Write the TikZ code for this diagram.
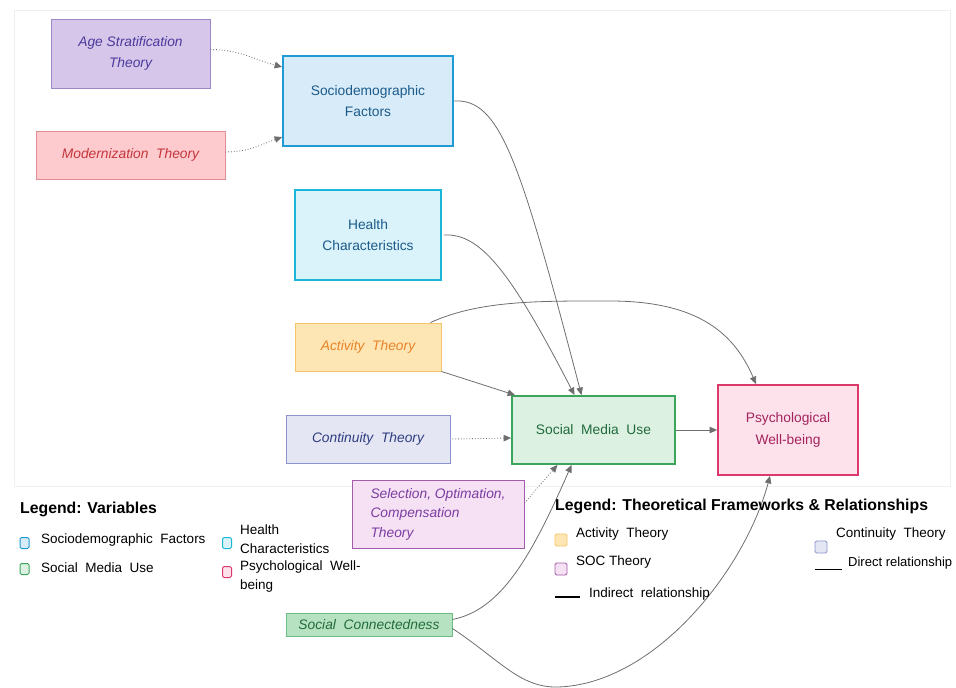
\documentclass[tikz,border=0pt]{standalone}
\usepackage{fontspec}
\setmainfont{Liberation Sans}
\usetikzlibrary{arrows.meta}
\definecolor{arrowgray}{HTML}{6E6E6E}
\definecolor{ageFill}{HTML}{D6C6EA}\definecolor{ageLine}{HTML}{9D88C6}\definecolor{ageTxt}{HTML}{4B3A9C}
\definecolor{modFill}{HTML}{FDCACD}\definecolor{modLine}{HTML}{E38E94}\definecolor{modTxt}{HTML}{C4363C}
\definecolor{socFill}{HTML}{D7ECF8}\definecolor{socLine}{HTML}{1E9BD2}\definecolor{varTxt}{HTML}{1C5A8A}
\definecolor{heaFill}{HTML}{DAF3FA}\definecolor{heaLine}{HTML}{19B6D8}
\definecolor{actFill}{HTML}{FDE6B3}\definecolor{actLine}{HTML}{F5C46A}\definecolor{actTxt}{HTML}{E8832A}
\definecolor{conFill}{HTML}{E4E6F4}\definecolor{conLine}{HTML}{8C94CD}\definecolor{conTxt}{HTML}{2F3D80}
\definecolor{smuFill}{HTML}{DDF1E2}\definecolor{smuLine}{HTML}{3BA65B}\definecolor{smuTxt}{HTML}{1F6B3C}
\definecolor{pwbFill}{HTML}{FDE2EB}\definecolor{pwbLine}{HTML}{DA3A6B}\definecolor{pwbTxt}{HTML}{A3235E}
\definecolor{socTFill}{HTML}{F6E0F3}\definecolor{socTLine}{HTML}{A35CAB}\definecolor{socTTxt}{HTML}{7A3DA3}
\definecolor{scFill}{HTML}{B7E2C2}\definecolor{scLine}{HTML}{6DBE84}\definecolor{scTxt}{HTML}{236B3A}
\begin{document}
\begin{tikzpicture}[x=1pt,y=-1pt,
  boxtxt/.style={font=\fontsize{13.8}{21}\selectfont, align=center, inner sep=2pt},
  varbox/.style={boxtxt, line width=1.8pt},
  thbox/.style={boxtxt, line width=0.9pt, font=\fontsize{13.8}{21}\selectfont\itshape},
  link/.style={draw=arrowgray, line width=0.8pt, -{Triangle[length=7.5pt,width=6.5pt]}},
  dotlink/.style={link, dotted, line width=0.9pt},
  legtitle/.style={anchor=west, inner sep=0pt, font=\fontsize{15.8}{18}\selectfont\bfseries},
  legtxt/.style={anchor=west, inner sep=0pt, align=left, font=\fontsize{13.5}{18.5}\selectfont},
  legsq/.style={rounded corners=1.5pt, line width=1pt, minimum width=9pt, minimum height=11pt, inner sep=0pt},
  legsqb/.style={rounded corners=1.5pt, line width=0.8pt, minimum width=12pt, minimum height=12pt, inner sep=0pt}
]
\useasboundingbox (0,0) rectangle (956,688);
\draw[black!6, line width=1pt] (14,10) rectangle (950,486);

% boxes
\node[thbox, fill=ageFill, draw=ageLine, text=ageTxt, minimum width=159, minimum height=69] (age) at (130.5,53.5) {Age Stratification\\Theory};
\node[thbox, fill=modFill, draw=modLine, text=modTxt, minimum width=189, minimum height=48] (mod) at (130.5,155) {Modernization\ \ Theory};
\node[varbox, fill=socFill, draw=socLine, text=varTxt, minimum width=170, minimum height=90] (socio) at (368,101) {Sociodemographic\\Factors};
\node[varbox, fill=heaFill, draw=heaLine, text=varTxt, minimum width=146, minimum height=90] (health) at (368,235) {Health\\Characteristics};
\node[thbox, fill=actFill, draw=actLine, text=actTxt, minimum width=146, minimum height=48] (act) at (368,347) {Activity\ \ Theory};
\node[thbox, fill=conFill, draw=conLine, text=conTxt, minimum width=164, minimum height=48] (cont) at (368,439) {Continuity\ \ Theory};
\node[varbox, fill=smuFill, draw=smuLine, text=smuTxt, minimum width=163, minimum height=68] (smu) at (593.5,430) {Social\ \ Media\ \ Use};
\node[varbox, fill=pwbFill, draw=pwbLine, text=pwbTxt, minimum width=140, minimum height=90, font=\fontsize{13.8}{22}\selectfont] (pwb) at (788,430) {Psychological\\Well-being};
\node[thbox, fill=socTFill, draw=socTLine, text=socTTxt, minimum width=172, minimum height=68, align=left, font=\fontsize{13.8}{19.5}\selectfont\itshape] (soc) at (438,514) {Selection,\ Optimation,\\ Compensation\\ Theory};
\node[thbox, fill=scFill, draw=scLine, text=scTxt, minimum width=166, minimum height=23, inner sep=0pt] (sc) at (369,624.5) {Social\ \ Connectedness};

% connectors
\draw[dotlink] ([yshift=4]age.east) to[out=0,in=165] ([yshift=34]socio.west);
\draw[dotlink] ([yshift=3]mod.east) to[out=0,in=200] ([yshift=-36]socio.west);
\draw[link] (socio.east) .. controls (500,98) and (520,160) .. ([xshift=-12]smu.north);
\draw[link] ([xshift=2]health.east) .. controls (480,233) and (510,270) .. ([xshift=-19]smu.north);
\draw[link] ([xshift=-11]act.north east) .. controls (480,300) and (540,301) .. (610,301) .. controls (700,301) and (735,335) .. ([xshift=-32]pwb.north);
\draw[link] (act.south east) -- ([xshift=4]smu.north west);
\draw[dotlink] ([xshift=2]cont.east) -- ([yshift=-8]smu.west);
\draw[link] (smu.east) -- (pwb.west);
\draw[dotlink] ([yshift=11]soc.east) -- ([xshift=-36]smu.south);
\draw[link] ([yshift=5]sc.east) .. controls (500,610) and (530,560) .. ([xshift=-22]smu.south);
\draw[link] ([yshift=-4]sc.east) .. controls (500,660) and (520,688) .. (558,687) .. controls (655,684) and (745,570) .. ([xshift=-18]pwb.south);

% legend: variables
\node[legtitle] (lv) at (20,509) {Legend: Variables};
\node[legsq, fill=socFill, draw=socLine] (lvsq1) at (24.5,543) {};
\node[legtxt] (lvt1) at (41,540) {Sociodemographic\ \ Factors};
\node[legsq, fill=heaFill, draw=heaLine] (lvsq2) at (227,543) {};
\node[legtxt] (lvt2) at (240,539) {Health\\Characteristics};
\node[legsq, fill=smuFill, draw=smuLine] (lvsq3) at (24.5,569) {};
\node[legtxt] (lvt3) at (41,568) {Social\ \ Media\ \ Use};
\node[legsq, fill=pwbFill, draw=pwbLine] (lvsq4) at (227,572) {};
\node[legtxt] (lvt4) at (240,576.5) {Psychological\ \ Well-\\being};

% legend: theories
\node[legtitle] (lt) at (555,506) {Legend: Theoretical Frameworks \& Relationships};
\node[legsqb, fill=actFill, draw=actLine] (ltsq1) at (561,540) {};
\node[legtxt] (ltt1) at (576,534) {Activity\ \ Theory};
\node[legsqb, fill=socTFill, draw=socTLine] (ltsq2) at (561,569) {};
\node[legtxt] (ltt2) at (576,562) {SOC Theory};
\coordinate (ind1) at (555,597);
\coordinate (ind2) at (580,597);
\draw[black, line width=1.4pt] (ind1) -- (ind2);
\node[legtxt] (ltt3) at (589,594) {Indirect\ \ relationship};
\node[legsqb, fill=conFill, draw=conLine] (ltsq3) at (821,547) {};
\node[legtxt] (ltt4) at (836,534) {Continuity\ \ Theory};
\coordinate (dir1) at (815,569);
\coordinate (dir2) at (842,569);
\draw[black, line width=0.7pt] (dir1) -- (dir2);
\node[legtxt, font=\fontsize{13}{18}\selectfont] (ltt5) at (848,563) {Direct relationship};
\end{tikzpicture}
\end{document}
